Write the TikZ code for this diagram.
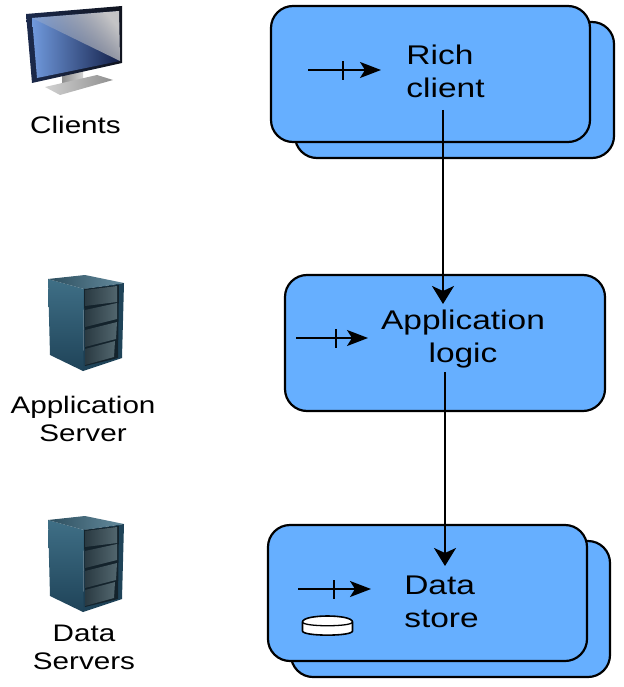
\documentclass[tikz,border=0pt]{standalone}
\usepackage{fontspec}
\usetikzlibrary{arrows.meta,fadings}
\newfontfamily\lab[FakeStretch=1.24]{Liberation Sans}
\definecolor{boxblue}{HTML}{66AFFF}
\definecolor{srvtop}{HTML}{3F6F86}
\definecolor{srvmid}{HTML}{0C1418}
\definecolor{srvlow}{HTML}{1F4358}
\definecolor{srvframe}{HTML}{14232C}
\definecolor{srvpanelA}{HTML}{52666E}
\definecolor{srvpanelB}{HTML}{2A3A42}
\definecolor{bezelA}{HTML}{1C2A4C}
\definecolor{bezelB}{HTML}{10141F}
\definecolor{scrblue}{HTML}{7099DC}
\definecolor{scrnavy}{HTML}{131F48}
\definecolor{scrgray}{HTML}{C4C4C6}
\definecolor{standA}{HTML}{8F8F8F}
\definecolor{standB}{HTML}{D2D2D2}
\tikzfading[name=fadescreen,top color=transparent!0,bottom color=transparent!100]
\tikzset{
  boxnode/.style={draw=black,fill=boxblue,line width=2.2pt,rounded corners=22pt,minimum width=319pt,minimum height=136pt,inner sep=0pt},
  boxtext/.style={font=\lab\fontsize{27}{33}\selectfont,align=left,inner sep=0pt,text=black},
  sidetext/.style={font=\lab\fontsize{23.9}{28}\selectfont,align=center,inner sep=0pt,text=black},
  flow/.style={draw=black,line width=2.4pt,-{Stealth[length=18pt,width=22pt,inset=5pt]}},
  small/.style={draw=black,line width=1.7pt,-{Stealth[length=21pt,width=16pt,inset=5pt]}},
  tick/.style={draw=black,line width=1.7pt},
}
\newcommand{\servericon}[1]{%
\begin{scope}[shift={(0,#1)}]
  \shade[top color=srvtop,middle color=srvmid,bottom color=srvlow]
     (48,279)--(84,289)--(83,371)--(50,355)--cycle;
  \shade[left color=srvtop!70!black,right color=srvtop!80!white]
     (48,279)--(85,275)--(124,283)--(84,289)--cycle;
  \fill[srvlow] (84,289)--(124,283)--(122,358)--(83,371)--cycle;
  \fill[srvframe] (84,289)--(119,285)--(118,358)--(85,366)--cycle;
  \shade[left color=srvpanelB,right color=srvpanelA] (85,290)--(117,286)--(117,302)--(85,306)--cycle;
  \shade[left color=srvpanelB,right color=srvpanelA] (85,310)--(117,303)--(117,319)--(85,327)--cycle;
  \shade[left color=srvpanelB,right color=srvpanelA] (85,330)--(117,322)--(116,339)--(85,347)--cycle;
  \shade[left color=srvpanelB,right color=srvpanelA] (85,349)--(115,341)--(114,357)--(85,365)--cycle;
\end{scope}}
\begin{document}
\begin{tikzpicture}[x=1pt,y=-1pt]
\useasboundingbox (0,0) rectangle (623,687);
% boxes
\node[boxnode] (richback) at (454.5,90) {};
\node[boxnode] (richbox) at (430.5,74) {};
\node[boxnode,minimum width=320pt] (appbox) at (445,343) {};
\node[boxnode] (databack) at (450.5,609) {};
\node[boxnode] (databox) at (427.5,593) {};
% box texts
\node[boxtext] (richlabel) at (445.5,71) {Rich\\client};
\node[boxtext,align=center] (applabel) at (463,339) {Application\\logic};
\node[boxtext] (datalabel) at (441.5,602) {Data\\store};
% connectors
\coordinate (r0) at (443,110);
\coordinate (a1) at (443,304);
\coordinate (a0) at (445,372);
\coordinate (d1) at (445,566);
\draw[flow] (r0) -- (a1);
\draw[flow] (a0) -- (d1);
% small arrows
\coordinate (ra) at (308,70); \coordinate (rb) at (381,70);
\coordinate (rt1) at (343,61); \coordinate (rt2) at (343,80);
\draw[small] (ra) -- (rb); \draw[tick] (rt1) -- (rt2);
\coordinate (aa) at (296,338); \coordinate (ab) at (368,338);
\coordinate (at1) at (336,329); \coordinate (at2) at (336,348);
\draw[small] (aa) -- (ab); \draw[tick] (at1) -- (at2);
\coordinate (da) at (298,589); \coordinate (db) at (371,589);
\coordinate (dt1) at (334,580); \coordinate (dt2) at (334,599);
\draw[small] (da) -- (db); \draw[tick] (dt1) -- (dt2);
% cylinder
\draw[fill=white,line width=1.6pt] (302.5,622) -- (302.5,631) .. controls (302.5,636.5) and (352.5,636.5) .. (352.5,631) -- (352.5,622) .. controls (352.5,614) and (302.5,614) .. (302.5,622) -- cycle;
\draw[line width=1.3pt] (302.5,622) .. controls (302.5,627) and (352.5,627) .. (352.5,622);
% monitor
\shade[left color=standA,right color=standB] (62,74)--(83,71)--(83,80)--(62,85)--cycle;
\shade[left color=standB,right color=standA] (45,87)--(97,75)--(113,80)--(60,95)--cycle;
\shade[left color=bezelA,right color=bezelB] (26,14)--(122,6)--(122,63)--(32,83)--cycle;
\shade[left color=scrblue,right color=scrnavy] (32,18)--(119,11)--(120,61)--(37,78)--cycle;
\fill[scrgray,path fading=fadescreen,fit fading=true,fading angle=-65] (32,18)--(119,11)--(120,61)--cycle;
% servers
\servericon{0}
\servericon{241}
% side labels
\node[sidetext] (clients) at (75.5,125) {Clients};
\node[sidetext] (appserver) at (83,419) {Application\\Server};
\node[sidetext] (dataservers) at (84,647) {Data\\Servers};
\end{tikzpicture}
\end{document}
